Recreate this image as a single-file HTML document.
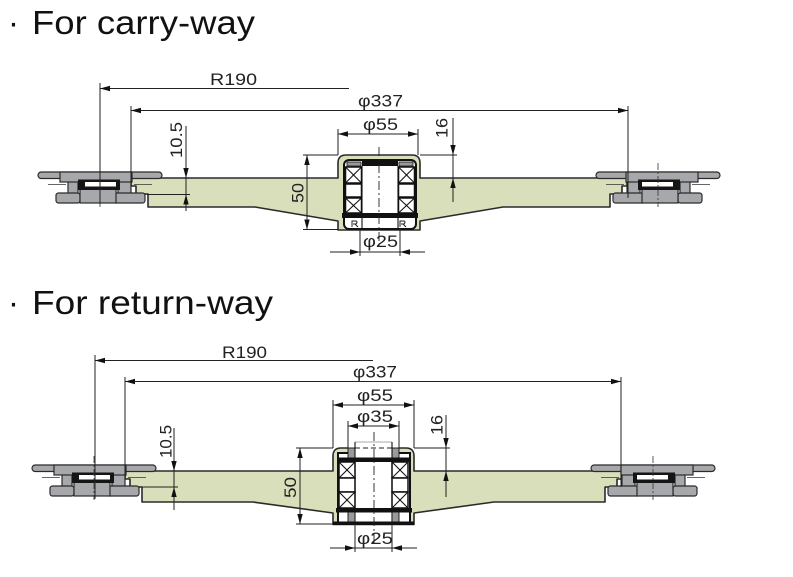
<!DOCTYPE html>
<html><head><meta charset="utf-8">
<style>html,body{margin:0;padding:0;background:#fff;}svg{display:block}</style>
</head>
<body>
<svg width="793" height="577" viewBox="0 0 793 577" xmlns="http://www.w3.org/2000/svg" xmlns:xlink="http://www.w3.org/1999/xlink" font-family="'Liberation Sans', sans-serif">
<defs>
<g id="chain">
  <g fill="#a6a8ab" stroke="#2b2b2b" stroke-width="1.2">
    <rect x="38" y="172" width="124" height="6.5" rx="3.2"/>
    <rect x="68" y="180" width="10" height="16"/>
    <rect x="118" y="180" width="13" height="16"/>
    <rect x="56" y="193" width="24" height="10" rx="2.5"/>
    <rect x="113" y="193" width="32" height="10" rx="2.5"/>
    <rect x="80" y="186" width="36" height="17"/>
    <rect x="60" y="172" width="72" height="10"/>
  </g>
  <rect x="78" y="179.5" width="42" height="10.5" fill="#151515"/>
  <rect x="85" y="182" width="31" height="4.5" fill="#fff"/>
  <line x1="100" y1="163" x2="100" y2="207" stroke="#333" stroke-width="0.8" stroke-dasharray="7,2,2,2"/>
  <line x1="48" y1="184.5" x2="66" y2="184.5" stroke="#333" stroke-width="0.7"/>
  <line x1="134" y1="184.5" x2="152" y2="184.5" stroke="#333" stroke-width="0.7"/>
</g>
</defs>

<!-- Titles -->
<text x="8" y="34" font-size="33" fill="#111">·</text>
<text x="32" y="34" font-size="33" fill="#111" textLength="223" lengthAdjust="spacingAndGlyphs">For carry-way</text>
<text x="8" y="314" font-size="33" fill="#111">·</text>
<text x="32" y="314" font-size="33" fill="#111" textLength="241" lengthAdjust="spacingAndGlyphs">For return-way</text>

<!-- ================= TOP DIAGRAM ================= -->
<path d="M131,178 H338 V163 Q338,155 346,155 H412 Q420,155 420,163 V178 H627 V186 H622 V194 H610 V207 H503 L420,221 V230 H338 V221 L255,207 H148 V194 H136 V186 H131 Z" fill="#dadfbb" stroke="#2a2a2a" stroke-width="1.6" stroke-linejoin="round"/>

<!-- hub internals top -->
<rect x="344" y="160" width="72" height="69" rx="5" fill="#fff" stroke="#111" stroke-width="2"/>
<rect x="362" y="160.5" width="36" height="5.5" fill="#111"/>
<rect x="347" y="162" width="14" height="4" fill="#9a9a9a" stroke="#111" stroke-width="0.8"/>
<rect x="399" y="162" width="14" height="4" fill="#9a9a9a" stroke="#111" stroke-width="0.8"/>
<g fill="#fff" stroke="#111" stroke-width="1.5">
  <rect x="345.5" y="167" width="16" height="16"/>
  <rect x="345.5" y="184" width="16" height="13"/>
  <rect x="345.5" y="198" width="16" height="15"/>
  <rect x="398.5" y="167" width="16" height="16"/>
  <rect x="398.5" y="184" width="16" height="13"/>
  <rect x="398.5" y="198" width="16" height="15"/>
</g>
<g stroke="#111" stroke-width="1.1">
  <line x1="345.5" y1="167" x2="361.5" y2="183"/><line x1="361.5" y1="167" x2="345.5" y2="183"/>
  <line x1="345.5" y1="198" x2="361.5" y2="213"/><line x1="361.5" y1="198" x2="345.5" y2="213"/>
  <line x1="398.5" y1="167" x2="414.5" y2="183"/><line x1="414.5" y1="167" x2="398.5" y2="183"/>
  <line x1="398.5" y1="198" x2="414.5" y2="213"/><line x1="414.5" y1="198" x2="398.5" y2="213"/>
  <line x1="362" y1="166" x2="362" y2="229"/><line x1="398" y1="166" x2="398" y2="229"/>
</g>
<rect x="342" y="213" width="76" height="5" fill="#111"/>
<g fill="none" stroke="#222" stroke-width="1">
  <path d="M352,227 V221 H356 Q358,222 356,224 H353 M355,224 L358,227"/>
  <path d="M400,227 V221 H404 Q406,222 404,224 H401 M403,224 L406,227"/>
</g>
<line x1="379" y1="147" x2="379" y2="247" stroke="#222" stroke-width="0.9" stroke-dasharray="9,3,2,3"/>

<!-- chains top -->
<use xlink:href="#chain" href="#chain"/>
<use xlink:href="#chain" href="#chain" transform="translate(758,0) scale(-1,1)"/>

<!-- dimension lines top -->
<g stroke="#222" stroke-width="1" fill="none">
  <line x1="100" y1="88.5" x2="349" y2="88.5"/>
  <line x1="100" y1="83" x2="100" y2="204"/>
  <line x1="131" y1="110.5" x2="628" y2="110.5"/>
  <line x1="131" y1="106" x2="131" y2="186"/>
  <line x1="628" y1="106" x2="628" y2="198"/>
  <line x1="186" y1="126" x2="186" y2="211"/>
  <line x1="147" y1="194.5" x2="190" y2="194.5"/>
  <line x1="338" y1="134" x2="418" y2="134"/>
  <line x1="338" y1="129" x2="338" y2="155"/>
  <line x1="418" y1="129" x2="418" y2="155"/>
  <line x1="453" y1="118" x2="453" y2="202"/>
  <line x1="420" y1="155" x2="457" y2="155"/>
  <line x1="307" y1="155" x2="307" y2="229.5"/>
  <line x1="303" y1="155" x2="338" y2="155"/>
  <line x1="303" y1="229.5" x2="338" y2="229.5"/>
  <line x1="330" y1="252" x2="425" y2="252"/>
  <line x1="360" y1="229" x2="360" y2="256"/>
  <line x1="400" y1="229" x2="400" y2="256"/>
</g>
<g fill="#111">
  <polygon points="100,88.5 110,85.8 110,91.2"/>
  <polygon points="131,110.5 141,107.8 141,113.2"/>
  <polygon points="628,110.5 618,107.8 618,113.2"/>
  <polygon points="186,178 183.3,168 188.7,168"/>
  <polygon points="186,194.5 183.3,204.5 188.7,204.5"/>
  <polygon points="338,134 348,131.3 348,136.7"/>
  <polygon points="418,134 408,131.3 408,136.7"/>
  <polygon points="453,155 450.3,145 455.7,145"/>
  <polygon points="453,178 450.3,188 455.7,188"/>
  <polygon points="307,155 304.3,165 309.7,165"/>
  <polygon points="307,229.5 304.3,219.5 309.7,219.5"/>
  <polygon points="360,252 350,249.3 350,254.7"/>
  <polygon points="400,252 410,249.3 410,254.7"/>
</g>
<g font-size="17" fill="#222" text-anchor="middle">
  <text x="233.5" y="85" textLength="47" lengthAdjust="spacingAndGlyphs">R190</text>
  <text x="380.5" y="106.5" textLength="45" lengthAdjust="spacingAndGlyphs">φ337</text>
  <text x="380.5" y="130" textLength="35" lengthAdjust="spacingAndGlyphs">φ55</text>
  <text x="380.5" y="247" textLength="35" lengthAdjust="spacingAndGlyphs">φ25</text>
  <text transform="translate(182,140) rotate(-90)" x="0" y="0" textLength="36" lengthAdjust="spacingAndGlyphs">10.5</text>
  <text transform="translate(303.5,193) rotate(-90)" x="0" y="0" textLength="20" lengthAdjust="spacingAndGlyphs">50</text>
  <text transform="translate(447.5,128) rotate(-90)" x="0" y="0" textLength="20" lengthAdjust="spacingAndGlyphs">16</text>
</g>

<!-- ================= BOTTOM DIAGRAM ================= -->
<path d="M125,471 H333 V456 Q333,448 341,448 H406 Q414,448 414,456 V471 H622 V479 H617 V487 H605 V502 H494 L414,513 V524.5 H333 V513 L253,502 H142 V487 H130 V479 H125 Z" fill="#dadfbb" stroke="#2a2a2a" stroke-width="1.6" stroke-linejoin="round"/>

<!-- hub internals bottom -->
<rect x="338" y="453" width="72" height="71" fill="#fff" stroke="#111" stroke-width="2"/>
<rect x="348" y="446" width="51" height="8" fill="#fff"/>
<rect x="355" y="442" width="37" height="16" fill="#fff"/>
<line x1="355" y1="442" x2="392" y2="442" stroke="#aaa" stroke-width="1"/>
<line x1="355" y1="448" x2="392" y2="448" stroke="#222" stroke-width="0.9" stroke-dasharray="5,3"/>
<rect x="348" y="448" width="7" height="10" fill="#9a9a9a" stroke="#111" stroke-width="0.9"/>
<rect x="392" y="448" width="7" height="10" fill="#9a9a9a" stroke="#111" stroke-width="0.9"/>
<rect x="338" y="457.5" width="72" height="4.5" fill="#111"/>
<g fill="#fff" stroke="#111" stroke-width="1.5">
  <rect x="339" y="462" width="16" height="16"/>
  <rect x="339" y="478" width="16" height="14"/>
  <rect x="339" y="492" width="16" height="16"/>
  <rect x="392" y="462" width="16" height="16"/>
  <rect x="392" y="478" width="16" height="14"/>
  <rect x="392" y="492" width="16" height="16"/>
</g>
<g stroke="#111" stroke-width="1.1">
  <line x1="339" y1="462" x2="355" y2="478"/><line x1="355" y1="462" x2="339" y2="478"/>
  <line x1="339" y1="492" x2="355" y2="508"/><line x1="355" y1="492" x2="339" y2="508"/>
  <line x1="392" y1="462" x2="408" y2="478"/><line x1="408" y1="462" x2="392" y2="478"/>
  <line x1="392" y1="492" x2="408" y2="508"/><line x1="408" y1="492" x2="392" y2="508"/>
  <line x1="355" y1="442" x2="355" y2="524"/><line x1="392" y1="442" x2="392" y2="524"/>
</g>
<rect x="336" y="508" width="76" height="4.5" fill="#111"/>
<rect x="348" y="512" width="7" height="10" fill="#9a9a9a" stroke="#111" stroke-width="0.9"/>
<rect x="392" y="512" width="7" height="10" fill="#9a9a9a" stroke="#111" stroke-width="0.9"/>
<rect x="333" y="521.5" width="81" height="3.5" fill="#111"/>
<line x1="374" y1="432" x2="374" y2="546" stroke="#222" stroke-width="0.9" stroke-dasharray="9,3,2,3"/>

<!-- chains bottom -->
<use xlink:href="#chain" href="#chain" transform="translate(-6,293)"/>
<use xlink:href="#chain" href="#chain" transform="translate(753,293) scale(-1,1)"/>

<!-- dimension lines bottom -->
<g stroke="#222" stroke-width="1" fill="none">
  <line x1="95" y1="360.5" x2="373" y2="360.5"/>
  <line x1="95" y1="355" x2="95" y2="499"/>
  <line x1="125" y1="381.5" x2="621" y2="381.5"/>
  <line x1="125" y1="377" x2="125" y2="479"/>
  <line x1="621" y1="377" x2="621" y2="487"/>
  <line x1="174" y1="428" x2="174" y2="510"/>
  <line x1="140" y1="487" x2="178" y2="487"/>
  <line x1="333" y1="405" x2="414" y2="405"/>
  <line x1="333" y1="400" x2="333" y2="448"/>
  <line x1="414" y1="400" x2="414" y2="448"/>
  <line x1="348" y1="426" x2="399" y2="426"/>
  <line x1="348" y1="421" x2="348" y2="450"/>
  <line x1="399" y1="421" x2="399" y2="450"/>
  <line x1="446" y1="415" x2="446" y2="497"/>
  <line x1="414" y1="448" x2="450" y2="448"/>
  <line x1="300" y1="448" x2="300" y2="524"/>
  <line x1="296" y1="448" x2="333" y2="448"/>
  <line x1="296" y1="524" x2="333" y2="524"/>
  <line x1="330" y1="548" x2="417" y2="548"/>
  <line x1="355" y1="524" x2="355" y2="552"/>
  <line x1="392" y1="524" x2="392" y2="552"/>
</g>
<g fill="#111">
  <polygon points="95,360.5 105,357.8 105,363.2"/>
  <polygon points="125,381.5 135,378.8 135,384.2"/>
  <polygon points="621,381.5 611,378.8 611,384.2"/>
  <polygon points="174,471 171.3,461 176.7,461"/>
  <polygon points="174,487 171.3,497 176.7,497"/>
  <polygon points="333,405 343,402.3 343,407.7"/>
  <polygon points="414,405 404,402.3 404,407.7"/>
  <polygon points="348,426 358,423.3 358,428.7"/>
  <polygon points="399,426 389,423.3 389,428.7"/>
  <polygon points="446,448 443.3,438 448.7,438"/>
  <polygon points="446,471 443.3,481 448.7,481"/>
  <polygon points="300,448 297.3,458 302.7,458"/>
  <polygon points="300,524 297.3,514 302.7,514"/>
  <polygon points="355,548 345,545.3 345,550.7"/>
  <polygon points="392,548 402,545.3 402,550.7"/>
</g>
<g font-size="17" fill="#222" text-anchor="middle">
  <text x="244.5" y="358" textLength="45" lengthAdjust="spacingAndGlyphs">R190</text>
  <text x="375" y="377.5" textLength="44" lengthAdjust="spacingAndGlyphs">φ337</text>
  <text x="375" y="401" textLength="36" lengthAdjust="spacingAndGlyphs">φ55</text>
  <text x="375" y="422" textLength="36" lengthAdjust="spacingAndGlyphs">φ35</text>
  <text x="375" y="544" textLength="36" lengthAdjust="spacingAndGlyphs">φ25</text>
  <text transform="translate(171.5,441.5) rotate(-90)" x="0" y="0" textLength="33" lengthAdjust="spacingAndGlyphs">10.5</text>
  <text transform="translate(296,487.5) rotate(-90)" x="0" y="0" textLength="21" lengthAdjust="spacingAndGlyphs">50</text>
  <text transform="translate(442.5,425) rotate(-90)" x="0" y="0" textLength="20" lengthAdjust="spacingAndGlyphs">16</text>
</g>
</svg>
</body></html>
